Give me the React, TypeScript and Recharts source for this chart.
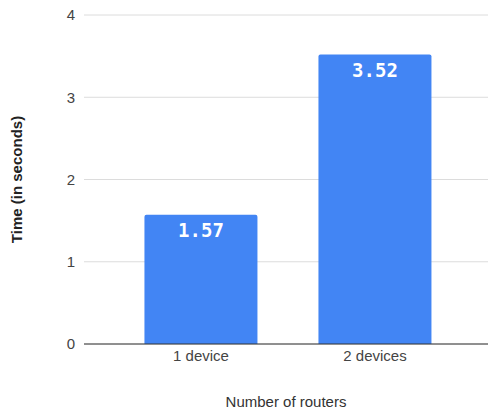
import { BarChart, Bar, XAxis, YAxis, CartesianGrid, LabelList } from 'recharts';

const categories = ['1 device', '2 devices'];
const times = [1.57, 3.52];
const yTicks = [0, 1, 2, 3, 4];

const data = categories.map((name, i) => ({ name, time: times[i] }));

export default function App() {
  return (
    <div style={{ position: 'absolute', left: 0, top: 0, background: '#fff' }}>
      <BarChart
        width={490}
        height={409}
        data={data}
        margin={{ top: 15, right: 2, left: 0, bottom: 0 }}
        barCategoryGap="17.5%"
        style={{ fontFamily: '"Liberation Sans", Arial, sans-serif' }}
      >
        <CartesianGrid vertical={false} stroke="#dcdcdc" />
        <XAxis
          dataKey="name"
          height={65}
          padding={{ left: 30, right: 26 }}
          tickLine={false}
          tickMargin={0}
          axisLine={{ stroke: '#333' }}
          tick={{ fontSize: 15, fill: '#444' }}
          label={{
            value: 'Number of routers',
            position: 'insideBottom',
            offset: 2,
            style: { fontSize: 15, fill: '#333' }
          }}
        />
        <YAxis
          width={84}
          domain={[0, 4]}
          ticks={yTicks}
          tickLine={false}
          axisLine={false}
          tickMargin={3}
          tick={{ fontSize: 15, fill: '#444' }}
          label={{
            value: 'Time (in seconds)',
            angle: -90,
            position: 'insideLeft',
            offset: 17,
            style: { textAnchor: 'middle', fontSize: 15, fontWeight: 'bold', fill: '#222' }
          }}
        />
        <Bar dataKey="time" fill="#4285f4" radius={[2, 2, 0, 0]} isAnimationActive={false}>
          <LabelList
            dataKey="time"
            position="insideTop"
            offset={9}
            fill="#fff"
            style={{ fontFamily: '"DejaVu Sans Mono", monospace', fontSize: 19, fontWeight: 'bold' }}
          />
        </Bar>
      </BarChart>
    </div>
  );
}
